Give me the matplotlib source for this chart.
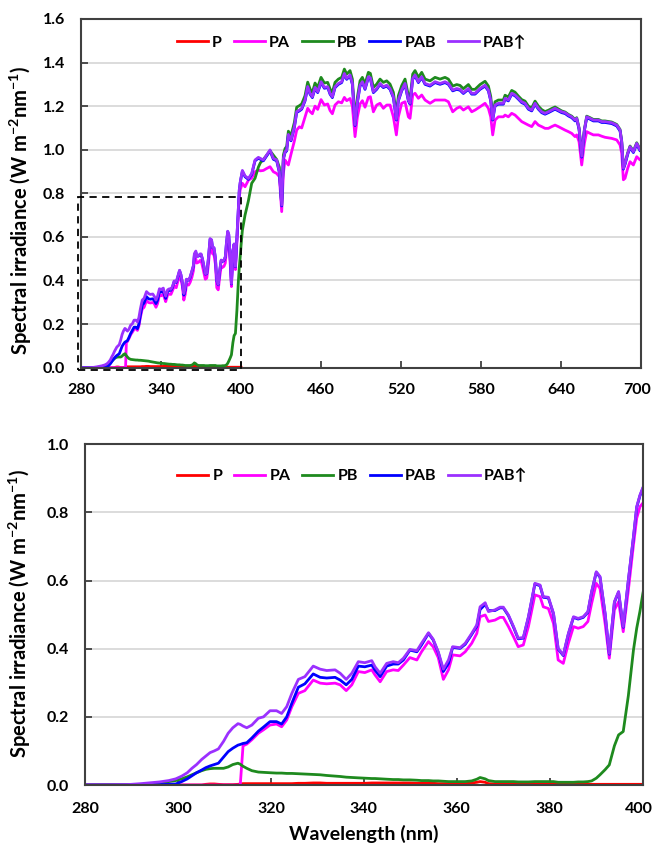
import matplotlib.pyplot as plt
from matplotlib.patches import Rectangle
from matplotlib.ticker import FormatStrFormatter, MultipleLocator
from matplotlib.transforms import ScaledTranslation

# ---- data (W m-2 nm-1) ----
# UV part, 280-400 nm
wl_uv = [280, 285, 289, 292, 294.3, 296, 298, 299.5, 300.8, 302,
         303, 304, 305.1, 306, 306.9, 307.8, 308.7, 309.8, 310.8, 311.8,
         312.9, 313.4, 314, 314.8, 315.9, 317.3, 318.4, 319.8, 321.2, 322.3,
         323.4, 324.5, 325.9, 327.3, 329.1, 330.6, 332.0, 333.8, 334.9, 336.2,
         337.4, 338.8, 340.2, 341.7, 342.4, 343.5, 344.9, 346.3, 347.4, 348.5,
         349.9, 351.4, 352.4, 353.9, 354.9, 356.0, 357.1, 358.2, 359.1, 360.7,
         361.8, 363.2, 364.3, 365.0, 366.1, 366.8, 368.2, 369.3, 370.0, 371.1,
         372.2, 373.2, 374.3, 375.4, 376.8, 377.9, 378.6, 379.7, 380.8, 381.8,
         382.9, 384.0, 385.1, 386.1, 387.2, 388.2, 389.0, 390.0, 390.8, 391.9,
         392.8, 393.9, 394.8, 395.8, 396.9, 398.0, 398.7, 399.4, 400.0]

p_uv = [0, 0, 0, 0, 0, 0, 0, 0, 0, 0,
        0, 0, 0, 0.002, 0.003, 0.003, 0.002, 0.001, 0.001, 0.001,
        0.002, 0.003, 0.004, 0.004, 0.004, 0.004, 0.004, 0.004, 0.004, 0.004,
        0.004, 0.004, 0.005, 0.005, 0.006, 0.006, 0.005, 0.005, 0.005, 0.005,
        0.005, 0.005, 0.005, 0.006, 0.006, 0.006, 0.006, 0.006, 0.006, 0.006,
        0.006, 0.005, 0.005, 0.005, 0.005, 0.004, 0.004, 0.004, 0.004, 0.004,
        0.004, 0.006, 0.008, 0.010, 0.008, 0.004, 0.003, 0.003, 0.003, 0.003,
        0.002, 0.002, 0.002, 0.002, 0.002, 0.002, 0.002, 0.002, 0.002, 0.002,
        0.002, 0.002, 0.002, 0.002, 0.002, 0.002, 0.002, 0.002, 0.002, 0.002,
        0.002, 0.002, 0.002, 0.002, 0.002, 0.002, 0.002, 0.002, 0.002]

pa_uv = [0, 0, 0, 0, 0, 0, 0, 0, 0, 0,
         0, 0, 0, 0, 0, 0, 0, 0, 0, 0,
         0, 0, 0.115, 0.120, 0.133, 0.152, 0.162, 0.176, 0.179, 0.171,
         0.191, 0.230, 0.269, 0.277, 0.308, 0.299, 0.297, 0.299, 0.294, 0.277,
         0.294, 0.333, 0.330, 0.338, 0.323, 0.303, 0.333, 0.338, 0.336, 0.352,
         0.374, 0.367, 0.391, 0.421, 0.406, 0.374, 0.310, 0.338, 0.382, 0.379,
         0.391, 0.416, 0.445, 0.494, 0.499, 0.480, 0.484, 0.492, 0.492, 0.465,
         0.435, 0.406, 0.411, 0.465, 0.558, 0.553, 0.523, 0.518, 0.474, 0.367,
         0.357, 0.416, 0.465, 0.460, 0.465, 0.480, 0.533, 0.592, 0.577, 0.474,
         0.372, 0.514, 0.538, 0.450, 0.572, 0.705, 0.783, 0.817, 0.827]

pb_uv = [0, 0, 0, 0.001, 0.003, 0.006, 0.010, 0.013, 0.018, 0.024,
         0.030, 0.036, 0.042, 0.046, 0.048, 0.049, 0.049, 0.049, 0.053, 0.060,
         0.064, 0.061, 0.055, 0.049, 0.042, 0.038, 0.037, 0.036, 0.035, 0.035,
         0.034, 0.034, 0.033, 0.032, 0.031, 0.030, 0.028, 0.026, 0.025, 0.023,
         0.022, 0.021, 0.020, 0.019, 0.019, 0.018, 0.017, 0.016, 0.016, 0.015,
         0.015, 0.014, 0.013, 0.013, 0.012, 0.012, 0.011, 0.010, 0.010, 0.010,
         0.010, 0.012, 0.017, 0.022, 0.018, 0.013, 0.010, 0.010, 0.010, 0.010,
         0.010, 0.009, 0.009, 0.009, 0.010, 0.010, 0.010, 0.010, 0.010, 0.008,
         0.008, 0.008, 0.008, 0.009, 0.009, 0.010, 0.012, 0.020, 0.030, 0.045,
         0.059, 0.115, 0.147, 0.157, 0.262, 0.396, 0.460, 0.510, 0.560]

pab_uv = [0, 0, 0, 0, 0.001, 0.001, 0.002, 0.003, 0.010, 0.018,
          0.027, 0.036, 0.044, 0.051, 0.056, 0.060, 0.064, 0.082, 0.098, 0.108,
          0.117, 0.119, 0.122, 0.124, 0.138, 0.158, 0.170, 0.186, 0.186, 0.179,
          0.200, 0.240, 0.287, 0.297, 0.326, 0.316, 0.314, 0.316, 0.308, 0.294,
          0.310, 0.349, 0.347, 0.352, 0.337, 0.318, 0.349, 0.355, 0.355, 0.367,
          0.396, 0.391, 0.411, 0.445, 0.426, 0.389, 0.333, 0.357, 0.404, 0.401,
          0.413, 0.442, 0.466, 0.515, 0.530, 0.512, 0.512, 0.520, 0.520, 0.497,
          0.463, 0.429, 0.431, 0.492, 0.590, 0.585, 0.551, 0.549, 0.502, 0.399,
          0.380, 0.443, 0.492, 0.487, 0.492, 0.507, 0.566, 0.624, 0.610, 0.502,
          0.384, 0.536, 0.566, 0.463, 0.600, 0.727, 0.815, 0.849, 0.870]

pabup_uv = [0, 0, 0.001, 0.004, 0.007, 0.009, 0.013, 0.018, 0.026, 0.036,
            0.049, 0.060, 0.075, 0.085, 0.095, 0.100, 0.106, 0.128, 0.152, 0.168,
            0.180, 0.178, 0.173, 0.168, 0.176, 0.196, 0.200, 0.218, 0.218, 0.210,
            0.230, 0.269, 0.310, 0.318, 0.349, 0.340, 0.336, 0.338, 0.328, 0.310,
            0.328, 0.362, 0.359, 0.365, 0.347, 0.328, 0.357, 0.362, 0.359, 0.372,
            0.398, 0.394, 0.416, 0.447, 0.428, 0.391, 0.340, 0.367, 0.406, 0.403,
            0.416, 0.445, 0.470, 0.523, 0.535, 0.509, 0.514, 0.522, 0.522, 0.499,
            0.465, 0.431, 0.433, 0.494, 0.592, 0.587, 0.553, 0.551, 0.504, 0.401,
            0.382, 0.445, 0.494, 0.489, 0.494, 0.509, 0.568, 0.626, 0.612, 0.504,
            0.386, 0.538, 0.568, 0.465, 0.602, 0.729, 0.817, 0.851, 0.872]

# visible part, 401-700 nm (P is not drawn there: it sits on the axis)
wl_vis = [401, 403, 405.5, 408, 410.5, 413, 414.5, 416.75, 419.25, 421.75,
          424.25, 426.75, 428.75, 430.5, 431.75, 433, 434.25, 435.5, 437.5, 440,
          441.75, 443.75, 445.5, 448, 450, 451.75, 453.5, 455.5, 457.5, 460,
          462.5, 465, 466.75, 468.5, 470.5, 473, 475.5, 477.5, 479.25, 481.75,
          483.5, 485.5, 487.25, 489.25, 491, 493, 495.5, 497, 499.25, 501.75,
          504.25, 506.75, 509.25, 511.75, 514.25, 516.5, 518, 520.5, 523, 525.5,
          526.75, 528.75, 530.5, 533, 535.5, 538, 541.75, 545.5, 549.25, 553,
          555.5, 558.75, 561.75, 564.25, 566.75, 570.5, 573, 575.5, 579.25, 583,
          585.5, 587.25, 588.75, 590.5, 593, 596.75, 598, 600.5, 603, 605.5,
          608, 610.5, 613, 615.5, 618, 620.5, 623, 625.5, 628, 630.5,
          633, 635.5, 638, 640.5, 643, 645.5, 648, 650.5, 651.75, 653.5,
          655.5, 657.5, 659.25, 661.75, 664.25, 668, 670.5, 673, 678, 681.75,
          684.25, 685.5, 686.75, 688, 690, 691.75, 694.25, 696.75, 699.25, 700]

pa_vis = [0.846, 0.830, 0.860, 0.870, 0.899, 0.907, 0.903, 0.905, 0.914, 0.922,
          0.899, 0.891, 0.876, 0.716, 0.891, 0.953, 0.940, 0.930, 0.980, 1.040,
          1.090, 1.105, 1.100, 1.150, 1.190, 1.175, 1.165, 1.200, 1.185, 1.230,
          1.205, 1.210, 1.180, 1.165, 1.205, 1.220, 1.215, 1.240, 1.225, 1.235,
          1.200, 1.060, 1.150, 1.210, 1.225, 1.195, 1.240, 1.243, 1.174, 1.205,
          1.213, 1.190, 1.205, 1.205, 1.151, 1.068, 1.151, 1.213, 1.220, 1.151,
          1.144, 1.251, 1.259, 1.236, 1.251, 1.228, 1.213, 1.228, 1.228, 1.228,
          1.220, 1.174, 1.190, 1.197, 1.182, 1.197, 1.174, 1.182, 1.197, 1.213,
          1.190, 1.151, 1.068, 1.136, 1.151, 1.151, 1.159, 1.151, 1.167, 1.159,
          1.144, 1.129, 1.121, 1.113, 1.106, 1.129, 1.113, 1.106, 1.098, 1.098,
          1.106, 1.113, 1.106, 1.098, 1.090, 1.083, 1.075, 1.060, 1.068, 1.037,
          0.930, 1.029, 1.083, 1.075, 1.068, 1.068, 1.062, 1.057, 1.052, 1.045,
          1.022, 0.983, 0.862, 0.869, 0.915, 0.945, 0.930, 0.968, 0.953, 0.953]

pb_vis = [0.630, 0.700, 0.765, 0.846, 0.869, 0.920, 0.940, 0.955, 0.975, 0.995,
          0.975, 0.955, 0.920, 0.750, 0.975, 1.005, 1.015, 1.085, 1.065, 1.125,
          1.195, 1.202, 1.210, 1.248, 1.310, 1.279, 1.263, 1.306, 1.286, 1.332,
          1.306, 1.309, 1.279, 1.263, 1.309, 1.324, 1.332, 1.370, 1.347, 1.363,
          1.324, 1.135, 1.240, 1.316, 1.332, 1.301, 1.355, 1.350, 1.286, 1.301,
          1.324, 1.309, 1.316, 1.301, 1.263, 1.160, 1.248, 1.294, 1.324, 1.248,
          1.233, 1.347, 1.363, 1.332, 1.355, 1.324, 1.316, 1.332, 1.324, 1.332,
          1.324, 1.292, 1.299, 1.295, 1.280, 1.299, 1.277, 1.277, 1.299, 1.314,
          1.292, 1.245, 1.155, 1.220, 1.228, 1.228, 1.250, 1.242, 1.272, 1.264,
          1.246, 1.230, 1.223, 1.200, 1.192, 1.223, 1.200, 1.184, 1.175, 1.181,
          1.189, 1.196, 1.187, 1.178, 1.173, 1.162, 1.154, 1.139, 1.147, 1.101,
          0.973, 1.093, 1.154, 1.147, 1.139, 1.139, 1.132, 1.132, 1.127, 1.116,
          1.093, 1.040, 0.918, 0.940, 0.986, 1.017, 0.994, 1.032, 1.002, 1.009]

pab_vis = [0.901, 0.876, 0.864, 0.887, 0.949, 0.961, 0.956, 0.949, 0.972, 0.995,
           0.956, 0.949, 0.895, 0.742, 0.956, 0.987, 0.995, 1.066, 1.041, 1.102,
           1.171, 1.178, 1.186, 1.224, 1.286, 1.255, 1.239, 1.282, 1.262, 1.308,
           1.282, 1.285, 1.255, 1.239, 1.285, 1.300, 1.308, 1.346, 1.323, 1.339,
           1.300, 1.111, 1.216, 1.292, 1.308, 1.277, 1.331, 1.326, 1.262, 1.277,
           1.300, 1.285, 1.292, 1.277, 1.239, 1.136, 1.224, 1.270, 1.300, 1.224,
           1.209, 1.323, 1.339, 1.308, 1.331, 1.300, 1.292, 1.308, 1.300, 1.308,
           1.300, 1.270, 1.277, 1.273, 1.258, 1.277, 1.255, 1.255, 1.277, 1.292,
           1.270, 1.224, 1.136, 1.201, 1.209, 1.209, 1.232, 1.224, 1.255, 1.247,
           1.232, 1.216, 1.209, 1.186, 1.178, 1.209, 1.186, 1.170, 1.163, 1.170,
           1.178, 1.186, 1.178, 1.170, 1.166, 1.155, 1.147, 1.132, 1.140, 1.094,
           0.966, 1.086, 1.147, 1.140, 1.132, 1.132, 1.125, 1.125, 1.120, 1.109,
           1.086, 1.033, 0.911, 0.933, 0.979, 1.010, 0.987, 1.025, 0.995, 1.002]

pabup_vis = [0.905, 0.880, 0.868, 0.891, 0.953, 0.965, 0.960, 0.953, 0.976, 0.999,
             0.960, 0.953, 0.899, 0.746, 0.960, 0.991, 0.999, 1.070, 1.045, 1.106,
             1.175, 1.182, 1.190, 1.228, 1.290, 1.259, 1.243, 1.286, 1.266, 1.312,
             1.286, 1.289, 1.259, 1.243, 1.289, 1.304, 1.312, 1.350, 1.327, 1.343,
             1.304, 1.115, 1.220, 1.296, 1.312, 1.281, 1.335, 1.330, 1.266, 1.281,
             1.304, 1.289, 1.296, 1.281, 1.243, 1.140, 1.228, 1.274, 1.304, 1.228,
             1.213, 1.327, 1.343, 1.312, 1.335, 1.304, 1.296, 1.312, 1.304, 1.312,
             1.304, 1.274, 1.281, 1.277, 1.262, 1.281, 1.259, 1.259, 1.281, 1.296,
             1.274, 1.228, 1.140, 1.205, 1.213, 1.213, 1.236, 1.228, 1.259, 1.251,
             1.236, 1.220, 1.213, 1.190, 1.182, 1.213, 1.190, 1.174, 1.167, 1.174,
             1.182, 1.190, 1.182, 1.174, 1.170, 1.159, 1.151, 1.136, 1.144, 1.098,
             0.970, 1.090, 1.151, 1.144, 1.136, 1.136, 1.129, 1.129, 1.124, 1.113,
             1.090, 1.037, 0.915, 0.937, 0.983, 1.014, 0.991, 1.029, 0.999, 1.006]

labels = ['P', 'PA', 'PB', 'PAB', 'PAB\u2191']
colors = ['#FF0000', '#FF00FF', '#1E8A1E', '#0000FF', '#9B30FF']

series_x = [wl_uv, wl_uv + wl_vis, wl_uv + wl_vis,
            wl_uv + wl_vis, wl_uv + wl_vis]
series_y = [p_uv, pa_uv + pa_vis, pb_uv + pb_vis,
            pab_uv + pab_vis, pabup_uv + pabup_vis]

top_xticks = [280, 340, 400, 460, 520, 580, 640, 700]
bot_xticks = [280, 300, 320, 340, 360, 380, 400]

plt.rcParams['font.family'] = ['Lato', 'DejaVu Sans']
plt.rcParams['font.weight'] = 'bold'
plt.rcParams['mathtext.fontset'] = 'custom'
plt.rcParams['mathtext.rm'] = 'Lato'
plt.rcParams['mathtext.bf'] = 'Lato:bold'
plt.rcParams['mathtext.default'] = 'bf'

fig = plt.figure(figsize=(6.55, 8.46), dpi=100)
ax1 = fig.add_axes([0.1237, 0.5654, 0.8550, 0.4122])
ax2 = fig.add_axes([0.1298, 0.0721, 0.8515, 0.4027])

ylab = 'Spectral irradiance (W m$^{-2}$nm$^{-1}$)'


def style(ax, xmin, xmax, xticks, ymax, legend_xy, ylab_xy, xpad):
    for i in range(5):
        ax.plot(series_x[i], series_y[i], color=colors[i], lw=2.0,
                label=labels[i], solid_joinstyle='round')
    ax.set_xlim(xmin, xmax)
    ax.set_ylim(0, ymax)
    ax.set_xticks(xticks)
    ax.yaxis.set_major_locator(MultipleLocator(0.2))
    ax.yaxis.set_major_formatter(FormatStrFormatter('%.1f'))
    ax.grid(axis='y', color='#D9D9D9', lw=1.3)
    ax.set_axisbelow(True)
    for s in ax.spines.values():
        s.set_color('#404040')
        s.set_linewidth(1.5)
    ax.tick_params(axis='both', direction='in', length=5, width=1.3,
                   color='#404040', labelsize=11.5)
    ax.tick_params(axis='y', pad=11.5)
    ax.tick_params(axis='x', pad=xpad)
    ax.set_ylabel(ylab, fontsize=14.5, fontweight='bold')
    ax.yaxis.set_label_coords(*ylab_xy)
    ax.legend(loc='center', bbox_to_anchor=legend_xy, ncol=5, frameon=False,
              fontsize=11.5, handlelength=1.95, handletextpad=0.25,
              columnspacing=0.75)


style(ax1, 280, 700, top_xticks, 1.6, (0.483, 0.932), (-0.084, 0.452), 11)
style(ax2, 280, 400, bot_xticks, 1.0, (0.479, 0.907), (-0.093, 0.503), 12.5)

ax2.set_xlabel('Wavelength (nm)', fontsize=14, fontweight='bold')
ax2.xaxis.set_label_coords(0.5, -0.118)

# the last tick labels sit right at the figure edge; nudge them inside
for ax in (ax1, ax2):
    last = ax.get_xticklabels()[-1]
    last.set_transform(last.get_transform() +
                       ScaledTranslation(-3 / 72, 0, fig.dpi_scale_trans))

# dashed box marking the zoomed UV region
ax1.add_patch(Rectangle((277.5, -0.011), 122.5, 0.793, fill=False,
                        edgecolor='black', lw=1.3, linestyle=(0, (4, 3)),
                        clip_on=False, zorder=10))

fig.savefig('out.png', dpi=100)
